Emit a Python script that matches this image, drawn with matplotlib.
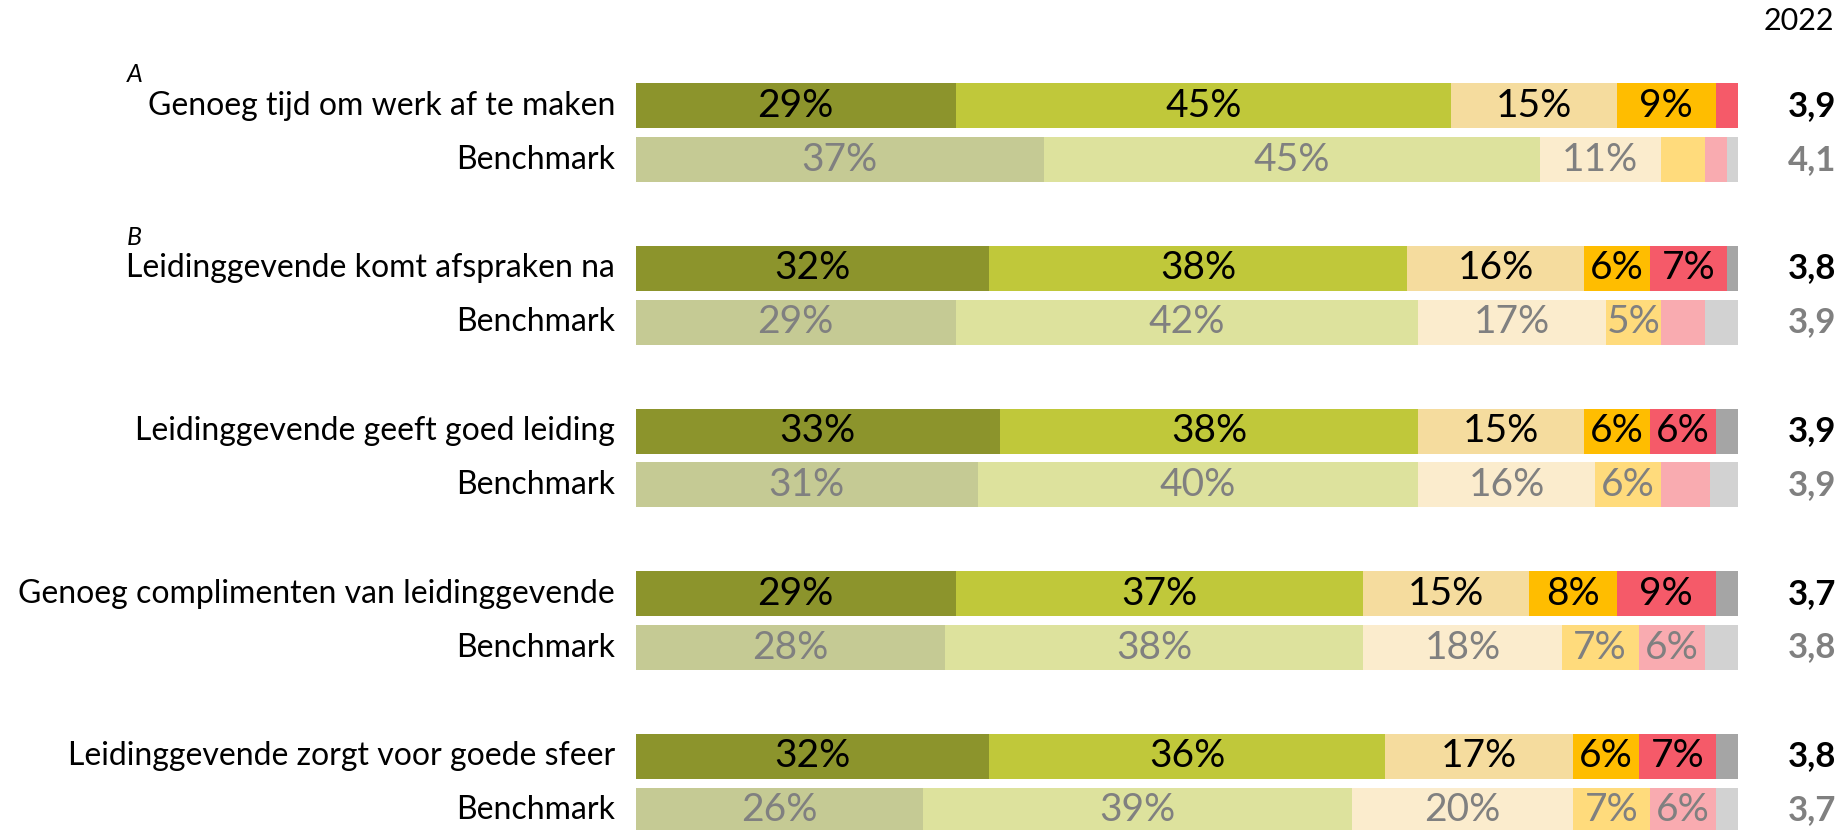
import matplotlib
matplotlib.use("Agg")
import matplotlib.pyplot as plt

plt.rcParams["font.family"] = ["Lato", "DejaVu Sans"]

# ---------------------------------------------------------------
# Data: share of answers per category (%), own score vs benchmark
# ---------------------------------------------------------------
categories = [
    "Genoeg tijd om werk af te maken",
    "Leidinggevende komt afspraken na",
    "Leidinggevende geeft goed leiding",
    "Genoeg complimenten van leidinggevende",
    "Leidinggevende zorgt voor goede sfeer",
]
group_tags = ["A", "B", "", "", ""]
bench_label = "Benchmark"
year_label = "2022"

# segments: zeer eens, eens, neutraal, oneens, zeer oneens, n.v.t.
main_values = [
    [29, 45, 15, 9, 2, 0],
    [32, 38, 16, 6, 7, 1],
    [33, 38, 15, 6, 6, 2],
    [29, 37, 15, 8, 9, 2],
    [32, 36, 17, 6, 7, 2],
]
bench_values = [
    [37, 45, 11, 4, 2, 1],
    [29, 42, 17, 5, 4, 3],
    [31, 40, 16, 6, 4.5, 2.5],
    [28, 38, 18, 7, 6, 3],
    [26, 39, 20, 7, 6, 2],
]
main_scores = [3.9, 3.8, 3.9, 3.7, 3.8]
bench_scores = [4.1, 3.9, 3.9, 3.8, 3.7]

main_colors = ["#8C942C", "#C0C83A", "#F5DC9E", "#FFBD00", "#F55A69", "#A5A5A5"]
bench_colors = ["#C5CA94", "#DDE29D", "#FBECCD", "#FFDB7C", "#F9ABB0", "#D2D2D2"]

W, H = 1847, 830
fig = plt.figure(figsize=(W / 100, H / 100), dpi=100)
# axes spans the bar area; y axis in pixel rows from the top
ax = fig.add_axes([636 / W, 0, (1738 - 636) / W, 1])
ax.set_xlim(0, 100)
ax.set_ylim(H, 0)
ax.axis("off")

BAR_H = 45
STEP = 162.6
MAIN_Y0 = 105.8
BENCH_Y0 = 159.7
LABEL_X = (615 - 636) / (1738 - 636) * 100
SCORE_X = (1812 - 636) / (1738 - 636) * 100
TAG_X = (127 - 636) / (1738 - 636) * 100


def draw_bar(y, values, colors, txt_color):
    left = 0
    for v, c in zip(values, colors):
        if v > 0:
            ax.barh(y, v, left=left, height=BAR_H, color=c, edgecolor="none")
            if v >= 5:
                ax.text(left + v / 2, y, f"{v:g}%", ha="center", va="center",
                        fontsize=28, color=txt_color)
        left += v


for i, cat in enumerate(categories):
    y_main = MAIN_Y0 + STEP * i
    y_bench = BENCH_Y0 + STEP * i
    draw_bar(y_main, main_values[i], main_colors, "black")
    draw_bar(y_bench, bench_values[i], bench_colors, "#808080")

    ax.text(LABEL_X, y_main, cat, ha="right", va="center", fontsize=23,
            color="black", clip_on=False)
    ax.text(LABEL_X, y_bench, bench_label, ha="right", va="center",
            fontsize=23, color="black", clip_on=False)
    if group_tags[i]:
        ax.text(TAG_X, y_main - 31, group_tags[i], ha="left", va="center",
                fontsize=18, style="italic", color="black", clip_on=False)

    ax.text(SCORE_X, y_main, f"{main_scores[i]:.1f}".replace(".", ","),
            ha="center", va="center", fontsize=25, fontweight="bold",
            color="black", clip_on=False)
    ax.text(SCORE_X, y_bench, f"{bench_scores[i]:.1f}".replace(".", ","),
            ha="center", va="center", fontsize=25, fontweight="bold",
            color="#808080", clip_on=False)

fig.text(1834 / W, 1 - 21 / H, year_label, ha="right", va="center",
         fontsize=22, color="black")

fig.savefig("out.png", dpi=100)
